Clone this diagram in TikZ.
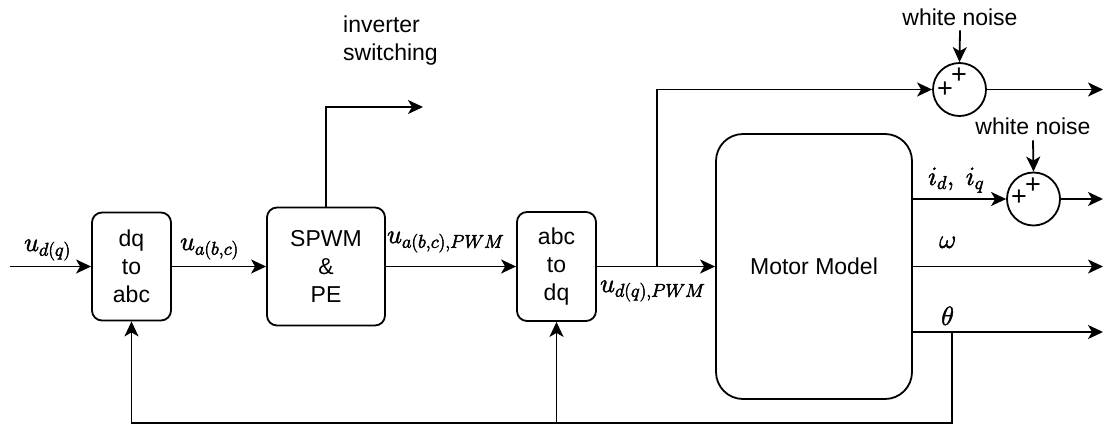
\RequirePackage{fix-cm}
\documentclass[tikz,border=0pt]{standalone}
\usepackage{fontspec}
\setmainfont{Liberation Sans}
\usetikzlibrary{arrows.meta,calc}
% slightly heavier glyphs for the signal labels (fill + thin outline)
\newcommand{\heavymath}[1]{\special{pdf:literal direct 2 Tr 0.5 w}#1\special{pdf:literal direct 0 Tr}}
\begin{document}
\begin{tikzpicture}[x=1pt,y=-1pt,
  every node/.style={font=\fontsize{23}{28}\selectfont},
  blk/.style={draw,line width=1.8pt,rounded corners=10pt,align=center,inner sep=0pt},
  sumnode/.style={draw,circle,line width=1.8pt,minimum size=53pt,inner sep=0pt},
  sig/.style={line width=1.8pt,-{Stealth[length=15pt,width=14pt,inset=4pt]}},
  lbl/.style={font=\fontsize{26.5}{30}\selectfont,anchor=base west,inner sep=0pt},
  plus/.style={font=\fontsize{27}{28}\selectfont,inner sep=0pt},
  noise/.style={anchor=base,inner sep=0pt},
]
\useasboundingbox (0,0) rectangle (1105,426);

% blocks
\node[blk,minimum width=79pt,minimum height=108pt] (dqabc) at (131.5,266.5) {dq\\to\\abc};
\node[blk,minimum width=118pt,minimum height=118pt] (spwm) at (326,266.5) {SPWM\\\&\\PE};
\node[blk,minimum width=79pt,minimum height=109pt] (abcdq) at (556.5,266.5) {abc\\to\\dq};
\node[blk,rounded corners=27pt,minimum width=196pt,minimum height=265pt] (motor) at (814,266.5) {Motor Model};

% summing junctions
\node[sumnode] (s1) at (959.5,89.5) {};
\node[sumnode] (s2) at (1033.5,199) {};
\node[plus] (p1a) at (945,90) {+};
\node[plus] (p1b) at (959,76) {+};
\node[plus] (p2a) at (1019,198) {+};
\node[plus] (p2b) at (1033,186) {+};

% noise inputs
\node[noise] (n1) at (960,25) {white noise};
\node[noise] (n2) at (1033,134) {white noise};
\draw[sig] ([yshift=-5pt]n1.south) -- (s1.north);
\draw[sig] ([yshift=-6pt]n2.south) -- (s2.north);

% coordinates for free ends
\coordinate (in) at (10,266.5);
\coordinate (invout) at (423,107);
\coordinate (br) at (657,266.5);
\coordinate (idq) at ($(motor.east)+(0,-67.5)$);
\coordinate (th) at ($(motor.east)+(0,65.5)$);
\coordinate (fb) at (952,332);
\coordinate (bot) at (952,423);
\coordinate (o1) at (1103,89.5);
\coordinate (o2) at (1103,199);
\coordinate (o3) at (1103,266.5);
\coordinate (o4) at (1103,332);

% forward path
\draw[sig] (in) -- (dqabc.west);
\draw[sig] (dqabc) -- (spwm);
\draw[sig] (spwm) -- (abcdq);
\draw[sig] (abcdq) -- (motor);
\draw[sig] (spwm.north) |- (invout);
\draw[sig] (br) |- (s1.west);

% motor outputs
\draw[sig] (idq) -- (s2.west);
\draw[sig] (motor.east) -- (o3);
\draw[sig] (th) -- (o4);
\draw[sig] (s1.east) -- (o1);
\draw[sig] (s2.east) -- (o2);

% feedback of the angle
\draw[sig] (fb) -- (bot) -| (dqabc.south);
\draw[sig] (abcdq.south |- bot) -- (abcdq.south);

% labels
\node[anchor=base west,align=left,inner sep=0pt] (inv) at (343,60) {inverter\\switching};
\node[lbl] (lud) at (24,251) {\heavymath{$u_{d(q)}$}};
\node[lbl] (lua) at (180,250) {\heavymath{$u_{a(b,c)}$}};
\node[lbl] (luapwm) at (387,243) {\heavymath{$u_{a(b,c),PWM}$}};
\node[lbl] (ludpwm) at (600,292) {\heavymath{$u_{d(q),PWM}$}};
\node[lbl] (lid) at (928,185) {\heavymath{$i_d,\;i_q$}};
\node[lbl] (lw) at (939,248) {\heavymath{$\omega$}};
\node[lbl] (lth) at (941,325) {\heavymath{$\theta$}};
\end{tikzpicture}
\end{document}
